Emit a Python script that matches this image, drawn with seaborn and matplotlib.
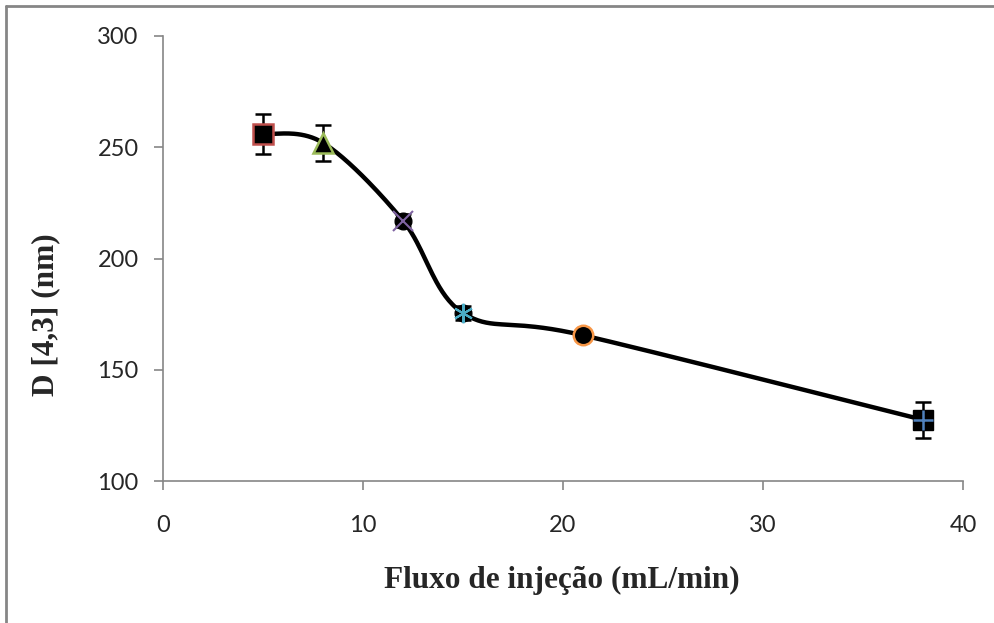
import numpy as np
import pandas as pd
import matplotlib
matplotlib.use("Agg")
import matplotlib.pyplot as plt
from matplotlib.lines import Line2D
import seaborn as sns

# dados
fluxo = [5, 8, 12, 15, 21, 38]            # mL/min
diametro = [256, 252, 217, 175.5, 165.5, 127.5]  # D[4,3] nm
erro = [9, 8, 3, 3, 2, 8]

# marcadores do Excel (forma, cor da borda / da cruz)
formas = ["s", "^", "x", "*", "o", "+"]
cores = ["#C0504D", "#9BBB59", "#8064A2", "#4BACC6", "#F79646", "#4F81BD"]


def suavizar(x, y, n=40):
    # curva suavizada tipo Excel (Bezier com pontos de controle a 1/6)
    p = np.column_stack([x, y]).astype(float)
    pts = []
    for i in range(len(p) - 1):
        p0 = p[i - 1] if i > 0 else p[i]
        p3 = p[i + 2] if i + 2 < len(p) else p[i + 1]
        c1 = p[i] + (p[i + 1] - p0) / 6
        c2 = p[i + 1] - (p3 - p[i]) / 6
        t = np.linspace(0, 1, n)[:, None]
        b = ((1 - t) ** 3 * p[i] + 3 * (1 - t) ** 2 * t * c1
             + 3 * (1 - t) * t ** 2 * c2 + t ** 3 * p[i + 1])
        pts.append(b if i == 0 else b[1:])
    pts = np.vstack(pts)
    return pts[:, 0], pts[:, 1]


sns.set_style("white")
plt.rcParams["font.family"] = ["Lato", "DejaVu Sans"]

fig = plt.figure(figsize=(9.95, 6.23), dpi=100)
ax = fig.add_axes([163 / 995, 142 / 623, 800 / 995, 445 / 623])

xs, ys = suavizar(fluxo, diametro)
curva = pd.DataFrame({"x": xs, "y": ys})
sns.lineplot(data=curva, x="x", y="y", sort=False, color="black", lw=3.2, ax=ax, zorder=2)

ax.errorbar(fluxo, diametro, yerr=erro, fmt="none", ecolor="black",
            elinewidth=1.8, capsize=6, capthick=1.8, zorder=3)

for x, y, f, c in zip(fluxo, diametro, formas, cores):
    if f in ("s", "^", "o"):
        ax.plot(x, y, marker=f, ms=14, mfc="black", mec=c, mew=1.8, zorder=4)
    elif f == "+":
        ax.plot(x, y, marker="s", ms=14, mfc="black", mec="black", zorder=4)
        ax.plot(x, y, marker="+", ms=14, mec=c, mew=1.8, zorder=5)
    else:
        ax.plot(x, y, marker="o", ms=12, mfc="black", mec="black", zorder=4)
        ax.plot(x, y, marker=f if f == "x" else (6, 2, 0), ms=14, mec=c, mew=1.5, zorder=5)

ax.set_xlim(0, 40)
ax.set_ylim(100, 300)
ax.set_xticks([0, 10, 20, 30, 40])
ax.set_yticks([100, 150, 200, 250, 300])
ax.tick_params(axis="both", direction="out", length=6.5, width=1.2, color="#868686",
               labelsize=17, left=True, bottom=True)
ax.tick_params(axis="y", pad=11)
ax.tick_params(axis="x", pad=18)
sns.despine(ax=ax)
for s in ("left", "bottom"):
    ax.spines[s].set_color("#868686")
    ax.spines[s].set_linewidth(1.2)

fonte = dict(family=["Liberation Serif"], weight="bold", size=22.5)
ax.set_xlabel("Fluxo de injeção (mL/min)", **fonte)
ax.set_ylabel("D [4,3] (nm)", **fonte)
ax.xaxis.set_label_coords(0.499, -0.19)
ax.yaxis.set_label_coords(-0.128, 0.374)

# moldura da área do gráfico (esquerda e topo)
fig.add_artist(Line2D([6 / 995, 6 / 995], [0, 1 - 6 / 623], transform=fig.transFigure,
                      color="#868686", lw=2))
fig.add_artist(Line2D([6 / 995, 1], [1 - 6 / 623, 1 - 6 / 623], transform=fig.transFigure,
                      color="#868686", lw=2))

fig.savefig("out.png", dpi=100)
